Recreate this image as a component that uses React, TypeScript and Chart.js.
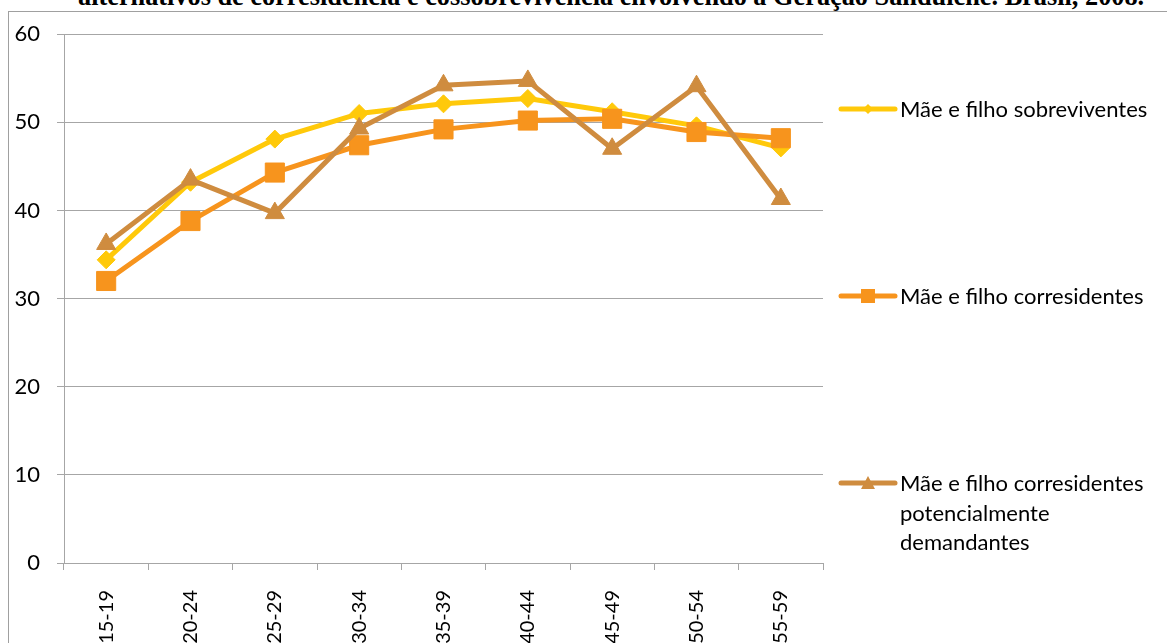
import React, { useEffect, useRef } from "react";
import { Chart, registerables } from "chart.js";

Chart.register(...registerables);

const categories = ["15-19", "20-24", "25-29", "30-34", "35-39", "40-44", "45-49", "50-54", "55-59"];
const sobreviventes = [34.4, 43.2, 48.1, 51.0, 52.1, 52.7, 51.2, 49.6, 47.1];
const corresidentes = [32.0, 38.8, 44.3, 47.4, 49.2, 50.2, 50.4, 48.9, 48.2];
const demandantes = [36.2, 43.5, 39.7, 49.3, 54.2, 54.7, 47.0, 54.1, 41.3];
const yTicks = [0, 10, 20, 30, 40, 50, 60];

const seriesLabels = [
  ["Mãe e filho sobreviventes"],
  ["Mãe e filho corresidentes"],
  ["Mãe e filho corresidentes", "potencialmente", "demandantes"],
];
const colors = ["#FFC90A", "#F7941D", "#CF8C3F"];
const titleText =
  "alternativos de corresidência e cossobrevivência envolvendo a Geração Sanduíche. Brasil, 2008.";

const FONT = "Lato, 'Open Sans', sans-serif";
const GRID = "#a6a6a6";

const legendPlugin = {
  id: "customLegend",
  afterDraw(chart: any) {
    const ctx = chart.ctx;
    const ys = [105, 292, 479];
    const styles = ["diamond", "square", "triangle"];
    ctx.save();
    for (let i = 0; i < 3; i++) {
      const y = ys[i];
      const c = colors[i];
      ctx.strokeStyle = c;
      ctx.lineWidth = 5;
      ctx.lineCap = "round";
      ctx.beginPath();
      ctx.moveTo(832, y);
      ctx.lineTo(886, y);
      ctx.stroke();
      ctx.fillStyle = c;
      const cx = 859;
      ctx.beginPath();
      if (styles[i] === "diamond") {
        ctx.moveTo(cx - 5, y);
        ctx.lineTo(cx, y - 5);
        ctx.lineTo(cx + 5, y);
        ctx.lineTo(cx, y + 5);
      } else if (styles[i] === "square") {
        ctx.rect(cx - 7, y - 7, 14, 14);
      } else {
        ctx.moveTo(cx, y - 7);
        ctx.lineTo(cx + 7, y + 6);
        ctx.lineTo(cx - 7, y + 6);
      }
      ctx.closePath();
      ctx.fill();
      ctx.fillStyle = "#000";
      ctx.font = `22px ${FONT}`;
      ctx.textBaseline = "middle";
      ctx.textAlign = "left";
      seriesLabels[i].forEach((t, k) => {
        ctx.fillText(t, 891, y + 1 + k * 29.5);
      });
    }
    ctx.restore();
  },
};

export default function App() {
  const ref = useRef<HTMLCanvasElement>(null);
  useEffect(() => {
    if (!ref.current) return;
    const chart = new Chart(ref.current, {
      type: "line",
      data: {
        labels: categories,
        datasets: [
          {
            label: seriesLabels[0].join(" "),
            data: sobreviventes,
            borderColor: colors[0],
            backgroundColor: colors[0],
            borderWidth: 5,
            pointStyle: "rectRot",
            pointRadius: 9,
            pointBorderWidth: 1,
            pointBorderColor: colors[0],
            pointBackgroundColor: colors[0],
            tension: 0,
            order: 3,
          },
          {
            label: seriesLabels[1].join(" "),
            data: corresidentes,
            borderColor: colors[1],
            backgroundColor: colors[1],
            borderWidth: 5,
            pointStyle: "rect",
            pointRadius: 13.5,
            pointBorderWidth: 1,
            pointBorderColor: colors[1],
            pointBackgroundColor: colors[1],
            tension: 0,
            order: 2,
          },
          {
            label: seriesLabels[2].join(" "),
            data: demandantes,
            borderColor: colors[2],
            backgroundColor: colors[2],
            borderWidth: 5,
            pointStyle: "triangle",
            pointRadius: 11,
            pointBorderWidth: 1,
            pointBorderColor: colors[2],
            pointBackgroundColor: colors[2],
            tension: 0,
            order: 1,
          },
        ],
      },
      options: {
        responsive: false,
        animation: false,
        layout: { padding: { top: 14, right: 344, left: 0, bottom: 0 } },
        plugins: { legend: { display: false }, tooltip: { enabled: false }, title: { display: false } },
        elements: { line: { borderJoinStyle: "round", borderCapStyle: "round" } },
        scales: {
          x: {
            type: "category",
            offset: true,
            grid: {
              offset: true,
              drawOnChartArea: false,
              drawTicks: true,
              tickLength: 7,
              color: GRID,
            },
            border: { color: GRID, width: 1 },
            ticks: {
              maxRotation: 90,
              minRotation: 90,
              autoSkip: false,
              padding: 20,
              color: "#000",
              font: { family: FONT, size: 20 },
            },
            afterFit(scale: any) {
              scale.height = 89;
            },
          },
          y: {
            min: 0,
            max: 60,
            afterBuildTicks(scale: any) {
              scale.ticks = yTicks.map((v) => ({ value: v }));
            },
            grid: { color: GRID, tickLength: 7, drawTicks: true },
            border: { color: GRID, width: 1 },
            ticks: {
              padding: 17,
              color: "#000",
              font: { family: FONT, size: 22 },
            },
            afterFit(scale: any) {
              scale.width = 55;
            },
          },
        },
      },
      plugins: [legendPlugin],
    });
    return () => chart.destroy();
  }, []);

  return (
    <div style={{ position: "fixed", left: 0, top: 0, width: 1167, height: 643, overflow: "hidden", background: "#fff" }}>
      <div
        style={{
          position: "absolute",
          left: 78,
          top: -16,
          whiteSpace: "nowrap",
          fontFamily: "'Liberation Serif', 'Times New Roman', serif",
          fontWeight: "bold",
          fontSize: 26.3,
          lineHeight: "26px",
          color: "#000",
        }}
      >
        {titleText}
      </div>
      <div
        style={{
          position: "absolute",
          left: 8,
          top: 11,
          width: 1300,
          height: 800,
          borderLeft: "1px solid #a0a0a0",
          borderTop: "1px solid #a0a0a0",
        }}
      />
      <canvas
        ref={ref}
        width={1158}
        height={648}
        style={{ position: "absolute", left: 9, top: 4, width: 1158, height: 648 }}
      />
    </div>
  );
}
